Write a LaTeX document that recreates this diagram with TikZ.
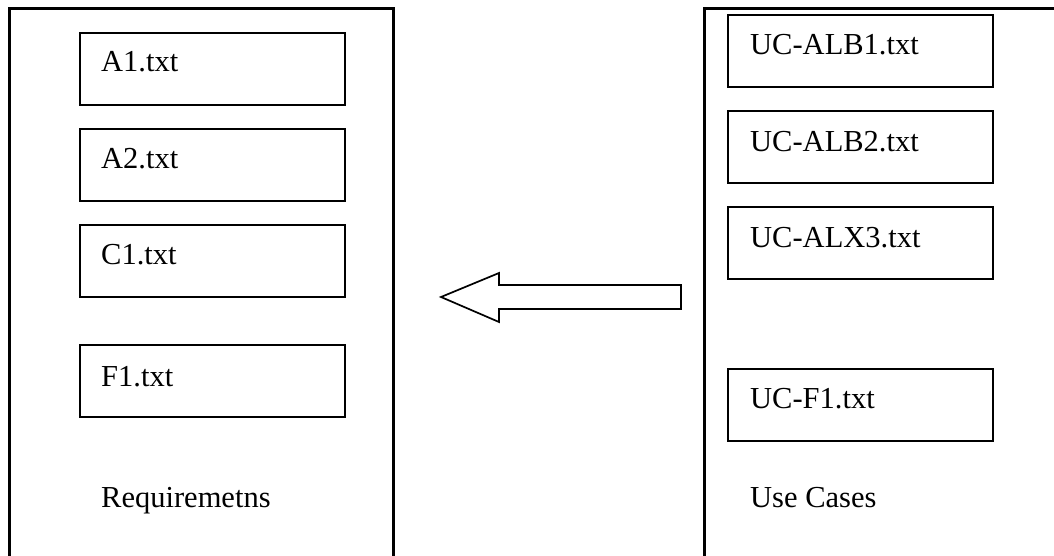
\documentclass[tikz,border=0pt]{standalone}
\usepackage{fontspec}
\setmainfont{Liberation Serif}
\begin{document}
\begin{tikzpicture}[x=1pt,y=-1pt,
  bigbox/.style={draw,line width=3pt},
  filebox/.style={draw,line width=2.3pt,minimum width=265pt,minimum height=72pt,inner sep=0pt,outer sep=0pt,anchor=north west},
  lbl/.style={anchor=base west,inner sep=0pt,font=\fontsize{30.5}{36}\selectfont},
  blockarrow/.style={draw,line width=1.7pt,fill=white,line join=miter}]
\useasboundingbox (0,0) rectangle (1054,556);
\clip (0,0) rectangle (1054,556);
\fill[white] (0,0) rectangle (1054,556);
% containers
\draw[bigbox] (9,9) rectangle (393,580);
\draw[bigbox] (704,9) rectangle (1080,580);
% left files
\node[filebox] (a1) at (80,33) {};
\node[filebox] (a2) at (80,129) {};
\node[filebox] (c1) at (80,225) {};
\node[filebox] (f1) at (80,345) {};
\node[lbl] (a1t) at (101,72) {A1.txt};
\node[lbl] (a2t) at (101,168) {A2.txt};
\node[lbl] (c1t) at (101,264) {C1.txt};
\node[lbl] (f1t) at (101,386) {F1.txt};
\node[lbl] (req) at (101,507) {Requiremetns};
% right files
\node[filebox] (u1) at (728,15) {};
\node[filebox] (u2) at (728,111) {};
\node[filebox] (u3) at (728,207) {};
\node[filebox] (u4) at (728,369) {};
\node[lbl] (u1t) at (750,55) {UC-ALB1.txt};
\node[lbl] (u2t) at (750,152) {UC-ALB2.txt};
\node[lbl] (u3t) at (750,247) {UC-ALX3.txt};
\node[lbl] (u4t) at (750,408) {UC-F1.txt};
\node[lbl] (uc) at (750,507) {Use Cases};
% block arrow
\draw[blockarrow] (681,285) -- (499,285) -- (499,273) -- (441,297) -- (499,322) -- (499,309) -- (681,309) -- cycle;
\end{tikzpicture}
\end{document}
